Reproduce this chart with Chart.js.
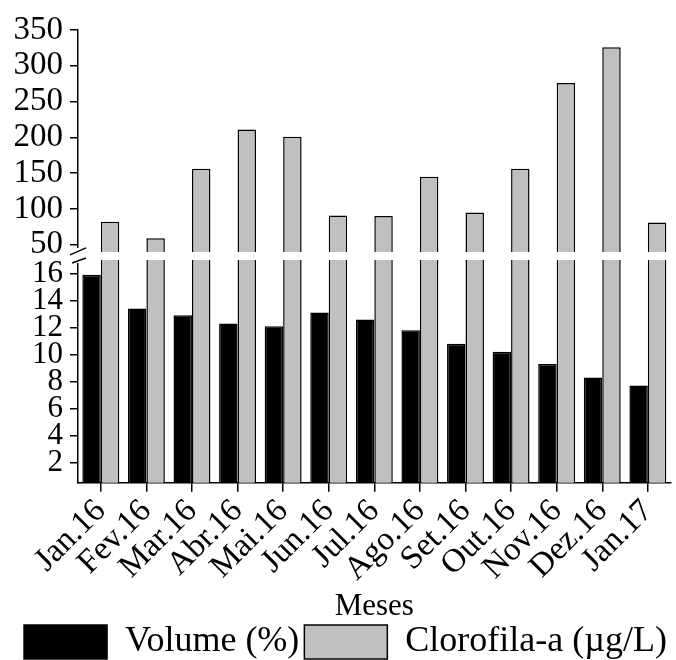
<!DOCTYPE html>
<html>
<head>
<meta charset="utf-8">
<script src="https://cdn.jsdelivr.net/npm/chart.js@4"></script>
<style>
html,body{margin:0;padding:0;background:#fff;}
canvas{display:block;background:#fff;}
</style>
</head>
<body>
<canvas id="c" width="676" height="660"></canvas>
<script>
// ---- data ----
const months = ['Jan.16','Fev.16','Mar.16','Abr.16','Mai.16','Jun.16','Jul.16','Ago.16','Set.16','Out.16','Nov.16','Dez.16','Jan.17'];
const volume = [15.9, 13.4, 12.9, 12.3, 12.1, 13.1, 12.6, 11.8, 10.8, 10.2, 9.3, 8.3, 7.7];
const clorofila = [82, 59, 156, 211, 201, 91, 90, 145, 95, 156, 276, 326, 81];
const upperTicks = [50, 100, 150, 200, 250, 300, 350];
const lowerTicks = [2, 4, 6, 8, 10, 12, 14, 16];
const upperRange = [40, 350];
const lowerRange = [0.5, 17];
const xTitle = 'Meses';
const volumeLabel = 'Volume (%)';
const cloroLabel = 'Clorofila-a (\u00b5g/L)';

const FONT = 'Liberation Serif';

const clipPlugin = {
  id: 'scaleClip',
  beforeDatasetDraw(chart, args) {
    const ys = args.meta.yScale, xs = args.meta.xScale, ctx = chart.ctx;
    ctx.save();
    ctx.beginPath();
    ctx.rect(xs.left, ys.top, xs.right - xs.left, ys.bottom - ys.top);
    ctx.clip();
  },
  afterDatasetDraw(chart) { chart.ctx.restore(); }
};

const breakPlugin = {
  id: 'axisBreak',
  afterDraw(chart) {
    const t = chart.scales.yTop, b = chart.scales.yBot, ctx = chart.ctx;
    const x = t.right;
    ctx.save();
    ctx.fillStyle = '#fff';
    ctx.fillRect(x - 2, t.bottom - 4, 4, b.top - t.bottom + 7);
    ctx.strokeStyle = '#000';
    ctx.lineWidth = 1.5;
    ctx.beginPath();
    ctx.moveTo(x - 8, t.bottom + 3); ctx.lineTo(x + 8, t.bottom - 4);
    ctx.moveTo(x - 6, b.top + 3); ctx.lineTo(x + 8, b.top - 2);
    ctx.stroke();
    ctx.restore();
  }
};

const yCommon = (size) => ({
  type: 'linear',
  position: 'left',
  stack: 'y',
  stacked: false,
  ticks: { autoSkip: false, color: '#000', font: { family: FONT, size: size }, padding: 7 },
  grid: { display: true, drawOnChartArea: false, drawTicks: true, tickLength: 8, color: '#000', lineWidth: 1.5 },
  border: { display: true, color: '#000', width: 1.5 }
});

new Chart(document.getElementById('c'), {
  type: 'bar',
  data: {
    labels: months,
    datasets: [
      { label: volumeLabel, data: volume, yAxisID: 'yBot', stack: 'v',
        backgroundColor: '#000', borderColor: '#000', borderWidth: 1.5, clip: false },
      { label: cloroLabel, data: clorofila, yAxisID: 'yTop', stack: 'c',
        backgroundColor: '#c0c0c0', borderColor: '#000', borderWidth: 1.5, clip: false },
      { label: cloroLabel, data: clorofila, yAxisID: 'yBot', stack: 'c',
        backgroundColor: '#c0c0c0', borderColor: '#000', borderWidth: 1.5, clip: false }
    ]
  },
  options: {
    responsive: false,
    animation: false,
    devicePixelRatio: 1,
    categoryPercentage: 0.81,
    barPercentage: 1.0,
    layout: { padding: { left: 6.5, right: 4, top: 30, bottom: -10 } },
    plugins: {
      tooltip: { enabled: false },
      legend: {
        position: 'bottom',
        align: 'end',
        labels: {
          color: '#000',
          font: { family: FONT, size: 36 },
          boxWidth: 83,
          boxHeight: 34,
          padding: 5,
          filter: (item) => item.datasetIndex !== 2
        }
      }
    },
    scales: {
      x: {
        type: 'category',
        offset: true,
        grid: { display: true, offset: false, drawOnChartArea: false, drawTicks: true, tickLength: 9, color: '#000', lineWidth: 1.5 },
        border: { display: true, color: '#000', width: 1.5 },
        ticks: { color: '#000', font: { family: FONT, size: 33 }, minRotation: 45, maxRotation: 45, autoSkip: false, padding: 0 },
        title: { display: true, text: xTitle, color: '#000', font: { family: FONT, size: 31, lineHeight: 0.8 }, padding: { top: 5, bottom: 0 } }
      },
      yTop: Object.assign(yCommon(33), {
        weight: 3, stackWeight: 221, min: upperRange[0], max: upperRange[1],
        afterBuildTicks: (s) => { s.ticks = upperTicks.map(v => ({ value: v })); }
      }),
      yGap: {
        type: 'linear', position: 'left', stack: 'y', stackWeight: 8, weight: 2,
        ticks: { display: false }, grid: { display: false }, border: { display: false }
      },
      yBot: Object.assign(yCommon(31), {
        weight: 1, stackWeight: 222, min: lowerRange[0], max: lowerRange[1],
        afterBuildTicks: (s) => { s.ticks = lowerTicks.map(v => ({ value: v })); }
      })
    }
  },
  plugins: [clipPlugin, breakPlugin]
});
</script>
</body>
</html>
